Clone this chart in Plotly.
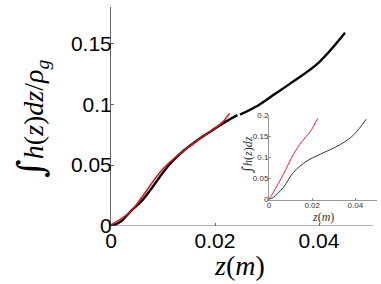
import plotly.graph_objects as go

# Main plot data
main_black_x1 = [0, 0.001, 0.002, 0.003, 0.004, 0.006, 0.008, 0.010, 0.012, 0.014, 0.016, 0.018, 0.020, 0.022, 0.0243]
main_black_y1 = [0, 0.0015, 0.004, 0.0085, 0.013, 0.021, 0.032, 0.044, 0.054, 0.062, 0.0685, 0.0745, 0.080, 0.0855, 0.091]
main_black_x2 = [0.0248, 0.0283, 0.0315, 0.0347, 0.0399, 0.045]
main_black_y2 = [0.0915, 0.099, 0.1083, 0.1177, 0.134, 0.1586]
main_red_x = [0, 0.002, 0.004, 0.006, 0.0085, 0.010, 0.012, 0.014, 0.016, 0.018, 0.020, 0.0215, 0.0228]
main_red_y = [0.001, 0.006, 0.013, 0.024, 0.039, 0.047, 0.055, 0.062, 0.068, 0.0745, 0.0805, 0.0855, 0.0925]

# Inset data
inset_red_x = [0, 0.002, 0.0067, 0.0113, 0.0152, 0.019, 0.0226]
inset_red_y = [0, 0.017, 0.06, 0.107, 0.137, 0.16, 0.192]
inset_black_x = [0, 0.002, 0.0067, 0.0113, 0.0175, 0.0237, 0.033, 0.0392, 0.045]
inset_black_y = [0, 0.005, 0.029, 0.064, 0.091, 0.107, 0.13, 0.153, 0.19]

main_xticks = [0, 0.02, 0.04]
main_xticklabels = ["0", "0.02", "0.04"]
main_yticks = [0, 0.05, 0.1, 0.15]
main_yticklabels = ["0", "0.05", "0.1", "0.15"]
inset_xticks = [0, 0.02, 0.04]
inset_xticklabels = ["0", "0.02", "0.04"]
inset_yticks = [0, 0.05, 0.1, 0.15, 0.2]
inset_yticklabels = ["0", "0.05", "0.1", "0.15", "0.2"]

fig = go.Figure()
fig.add_trace(go.Scatter(x=main_black_x1, y=main_black_y1, mode="lines",
                         line=dict(color="black", width=2.4, shape="spline"), xaxis="x", yaxis="y"))
fig.add_trace(go.Scatter(x=main_black_x2, y=main_black_y2, mode="lines",
                         line=dict(color="black", width=2.4, shape="spline"), xaxis="x", yaxis="y"))
fig.add_trace(go.Scatter(x=main_red_x, y=main_red_y, mode="lines",
                         line=dict(color="#e0141e", width=1.5, shape="spline"), xaxis="x", yaxis="y"))
fig.add_trace(go.Scatter(x=inset_red_x, y=inset_red_y, mode="lines",
                         line=dict(color="#e8202a", width=1, shape="spline"), xaxis="x2", yaxis="y2"))
fig.add_trace(go.Scatter(x=inset_black_x, y=inset_black_y, mode="lines",
                         line=dict(color="#333333", width=1, shape="spline"), xaxis="x2", yaxis="y2"))

tickfont_main = dict(family="Liberation Sans, Arial", size=21, color="black")
tickfont_inset = dict(family="Liberation Sans, Arial", size=8, color="#333")
serif = "Liberation Serif, Times New Roman, serif"

fig.update_layout(
    width=381, height=284,
    margin=dict(l=111, r=4, t=3, b=58),
    paper_bgcolor="white", plot_bgcolor="white",
    showlegend=False,
    xaxis=dict(domain=[0, 1], range=[0, 0.051154], tickvals=main_xticks, ticktext=main_xticklabels,
               ticks="inside", ticklen=3, tickcolor="#666", showline=False, showgrid=False,
               zeroline=False, tickfont=tickfont_main, anchor="y"),
    yaxis=dict(domain=[0, 1], range=[0, 0.1798], tickvals=main_yticks, ticktext=main_yticklabels,
               ticks="inside", ticklen=3, tickcolor="#666", showline=True, linecolor="#666", linewidth=1,
               showgrid=False, zeroline=False, tickfont=tickfont_main, anchor="x",
               ticklabelstandoff=-6),
    xaxis2=dict(domain=[0.594, 1.0], range=[0, 0.05], tickvals=inset_xticks, ticktext=inset_xticklabels,
                ticks="inside", ticklen=2, tickcolor="#999", showline=True, linecolor="#999", linewidth=1,
                showgrid=False, zeroline=False, tickfont=tickfont_inset, anchor="y2",
                ticklabelstandoff=-2),
    yaxis2=dict(domain=[0.121, 0.507], range=[0, 0.2], tickvals=inset_yticks, ticktext=inset_yticklabels,
                ticks="inside", ticklen=2, tickcolor="#999", showline=True, linecolor="#999", linewidth=1,
                showgrid=False, zeroline=False, tickfont=tickfont_inset, anchor="x2",
                ticklabelstandoff=-2),
    shapes=[dict(type="line", xref="x", yref="y", x0=0, x1=0.0504, y0=0, y1=0,
                 line=dict(color="#666", width=1))],
    annotations=[
        dict(text="<span style='font-family:DejaVu Serif;font-size:36px'>∫</span><i>h</i>(<i>z</i>)<i>dz</i>/<i>ρ<sub>g</sub></i>",
             xref="paper", yref="paper", x=(32 - 111) / 266, y=(226 - 117) / 223,
             textangle=-90, showarrow=False, font=dict(family=serif, size=28, color="black"),
             xanchor="center", yanchor="middle"),
        dict(text="<i>z</i>(<i>m</i>)", xref="paper", yref="paper",
             x=(239 - 111) / 266, y=(226 - 266) / 223, showarrow=False,
             font=dict(family=serif, size=28, color="black"), xanchor="center", yanchor="middle"),
        dict(text="<span style='font-family:DejaVu Serif;font-size:14px'>∫</span><i>h</i>(<i>z</i>)<i>dz</i>",
             xref="paper", yref="paper", x=(247 - 111) / 266, y=(226 - 154) / 223,
             textangle=-90, showarrow=False, font=dict(family=serif, size=12, color="#333"),
             xanchor="center", yanchor="middle"),
        dict(text="<i>z</i>(<i>m</i>)", xref="paper", yref="paper",
             x=(323 - 111) / 266, y=(226 - 217) / 223, showarrow=False,
             font=dict(family=serif, size=12, color="#333"), xanchor="center", yanchor="middle"),
    ],
)

fig.write_html("out.html", config={"displayModeBar": False},
               post_script="document.body.style.margin='0';")
